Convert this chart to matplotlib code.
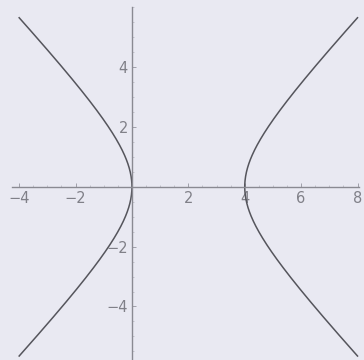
import numpy as np
import matplotlib.pyplot as plt

# hyperbola (x - h)^2 / a^2 - y^2 / b^2 = 1, plotted for x in [-4, 8]
h = 2.0
a = 2.0
b = 2.0
x_range = [-4.0, 8.0]

x_ticks = [-4, -2, 2, 4, 6, 8]
y_ticks = [-4, -2, 2, 4]

bg = '#e9e9f2'
axis_col = '#8a8a92'
text_col = '#808088'

y_end = b * np.sqrt(((x_range[1] - h) / a) ** 2 - 1)
y = np.linspace(-y_end, y_end, 400)
x_right = h + a * np.sqrt(1 + (y / b) ** 2)
x_left = h - a * np.sqrt(1 + (y / b) ** 2)

fig = plt.figure(figsize=(3.64, 3.6), dpi=100, facecolor=bg)
ax = fig.add_axes([0, 0, 1, 1], facecolor=bg)

ax.plot(x_left, y, color='#55555c', lw=1.1)
ax.plot(x_right, y, color='#55555c', lw=1.1)

ax.set_xlim(-4.68, 8.23)
ax.set_ylim(-5.79, 6.25)

# axes through the origin
for side in ['top', 'right']:
    ax.spines[side].set_visible(False)
ax.spines['left'].set_position(('data', 0))
ax.spines['bottom'].set_position(('data', 0))
ax.spines['left'].set_bounds(-5.9, 6.0)
ax.spines['bottom'].set_bounds(-4.25, 8.05)
for side in ['left', 'bottom']:
    ax.spines[side].set_color(axis_col)
    ax.spines[side].set_linewidth(1.0)

ax.set_xticks(x_ticks)
ax.set_yticks(y_ticks)
ax.set_xticks(np.arange(-4, 8.01, 0.5), minor=True)
ax.set_yticks(np.arange(-5.5, 6.01, 0.5), minor=True)
ax.tick_params(which='major', direction='in', length=3, width=0.7,
               color='#a0a0aa', labelcolor=text_col, labelsize=10.5, pad=3)
ax.tick_params(which='minor', direction='in', length=1.5, width=0.5,
               color='#b4b4be')

fig.savefig('out.png', dpi=100, facecolor=bg)
